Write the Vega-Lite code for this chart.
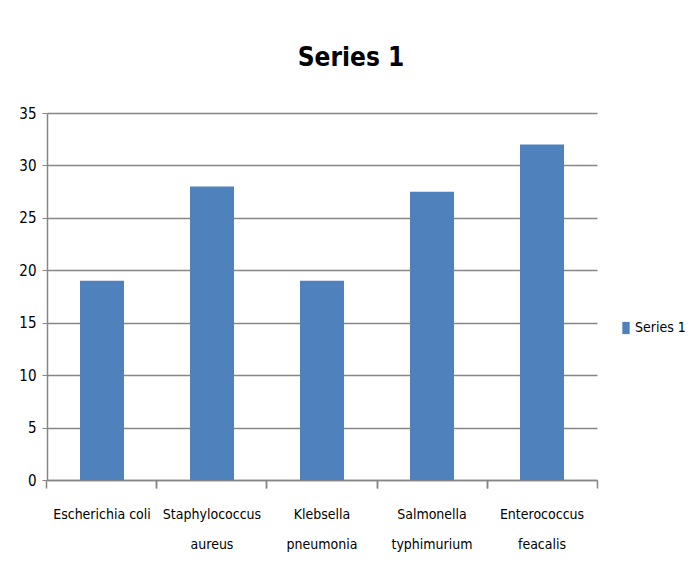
{
  "$schema": "https://vega.github.io/schema/vega-lite/v6.json",
  "width": 550,
  "height": 367,
  "autosize": "none",
  "padding": {"left": 47, "top": 113, "right": 96, "bottom": 91},
  "background": "white",
  "title": {
    "text": "Series 1",
    "font": "DejaVu Sans Condensed, sans-serif",
    "fontSize": 26,
    "fontWeight": "bold",
    "color": "#000000",
    "anchor": "middle",
    "dx": 29,
    "offset": 35
  },
  "data": {
    "values": [
      {"organism": "Escherichia coli", "value": 19, "series": "Series 1"},
      {"organism": "Staphylococcus aureus", "value": 28, "series": "Series 1"},
      {"organism": "Klebsella pneumonia", "value": 19, "series": "Series 1"},
      {"organism": "Salmonella typhimurium", "value": 27.5, "series": "Series 1"},
      {"organism": "Enterococcus feacalis", "value": 32, "series": "Series 1"}
    ]
  },
  "layer": [
    {
      "mark": {"type": "bar", "color": "#4F81BD"},
      "encoding": {
        "x": {
          "field": "organism",
          "type": "nominal",
          "sort": null,
          "scale": {"paddingInner": 0.6, "paddingOuter": 0.3},
          "axis": {
            "title": null,
            "orient": "bottom",
            "labelAngle": 0,
            "labelExpr": "datum.label == 'Escherichia coli' ? datum.label : split(datum.label, ' ')",
            "labelFont": "DejaVu Sans Condensed, sans-serif",
            "labelFontSize": 14,
            "labelColor": "#000000",
            "labelLineHeight": 30,
            "labelPadding": 27,
            "labelBaseline": "top",
            "ticks": false,
            "domainColor": "#868686",
            "domainWidth": 1.5,
            "grid": false
          }
        },
        "y": {
          "field": "value",
          "type": "quantitative",
          "scale": {"domain": [0, 35]},
          "axis": {
            "title": null,
            "values": [0, 5, 10, 15, 20, 25, 30, 35],
            "labelFont": "DejaVu Sans Condensed, sans-serif",
            "labelFontSize": 15,
            "labelColor": "#000000",
            "labelPadding": 6,
            "tickSize": 5,
            "tickColor": "#868686",
            "domainColor": "#868686",
            "domainWidth": 1.5,
            "gridColor": "#868686",
            "gridWidth": 1.5
          }
        },
        "fill": {
          "field": "series",
          "type": "nominal",
          "scale": {"range": ["#4F81BD"]},
          "legend": {
            "title": null,
            "orient": "none",
            "legendX": 572,
            "legendY": 208,
            "symbolType": "M-0.6,-1h1.2v2h-1.2z",
            "symbolSize": 150,
            "symbolStrokeWidth": 0,
            "labelFont": "DejaVu Sans Condensed, sans-serif",
            "labelFontSize": 14,
            "labelColor": "#000000",
            "labelOffset": 2
          }
        }
      }
    },
    {
      "mark": {"type": "bar", "opacity": 0},
      "encoding": {
        "x": {
          "field": "organism",
          "type": "nominal",
          "sort": null,
          "axis": {
            "title": null,
            "orient": "bottom",
            "labels": false,
            "domain": false,
            "bandPosition": -0.75,
            "ticks": true,
            "tickSize": 8,
            "tickColor": "#868686",
            "tickWidth": 1.5,
            "grid": false
          }
        },
        "y": {"field": "value", "type": "quantitative"}
      }
    },
    {
      "mark": {"type": "bar", "opacity": 0},
      "encoding": {
        "x": {
          "field": "organism",
          "type": "nominal",
          "sort": null,
          "axis": {
            "title": null,
            "orient": "bottom",
            "labels": false,
            "domain": false,
            "bandPosition": 1.75,
            "ticks": true,
            "tickSize": 8,
            "tickColor": "#868686",
            "tickWidth": 1.5,
            "grid": false
          }
        },
        "y": {"field": "value", "type": "quantitative"}
      }
    }
  ],
  "resolve": {"axis": {"x": "independent"}},
  "config": {"view": {"stroke": null}}
}
